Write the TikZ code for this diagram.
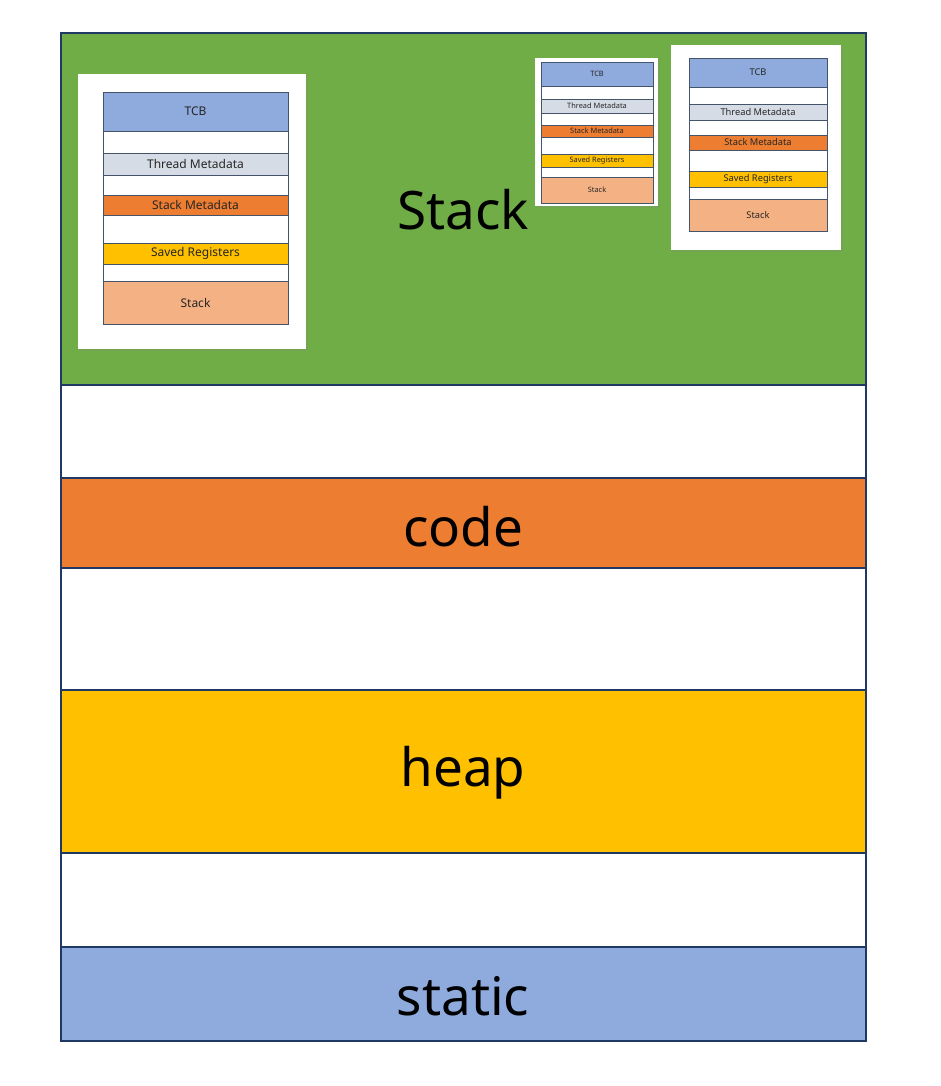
\documentclass[tikz,border=0pt]{standalone}
\usepackage{fontspec}
\setmainfont{Noto Sans}
\usetikzlibrary{shadows}
\definecolor{stackgreen}{HTML}{70AD47}
\definecolor{codeorange}{HTML}{ED7D31}
\definecolor{heapyellow}{HTML}{FFC000}
\definecolor{staticblue}{HTML}{8FAADC}
\definecolor{metagray}{HTML}{D6DCE5}
\definecolor{stackpink}{HTML}{F4B183}
\definecolor{bandline}{HTML}{203864}
\definecolor{segline}{HTML}{44546A}

\tikzset{
  band/.style={draw=bandline, line width=2pt, inner sep=0pt, minimum width=805pt},
  biglabel/.style={font=\fontsize{53}{60}\selectfont},
  card/.style={fill=white, inner sep=0pt, drop shadow={opacity=0.2, shadow xshift=1.5pt, shadow yshift=-1.5pt}},
  seg/.style={draw=segline, line width=0.6pt, inner sep=0pt, text=black!85}
}

\begin{document}
\begin{tikzpicture}[x=1pt,y=-1pt]
\useasboundingbox (0,0) rectangle (941,1086);

% memory bands
\foreach \name/\ya/\yb/\col in {stk/33/385/stackgreen, gapa/385/478/white, code/478/568/codeorange,
    gapb/568/690/white, heap/690/853/heapyellow, gapc/853/947/white, static/947/1041/staticblue}
  \node[band, fill=\col, minimum height={(\yb-\ya)*1pt}] (\name) at (463.5,{(\ya+\yb)/2}) {};

\node[biglabel] (stklabel) at (463,210) {Stack};
\node[biglabel] (codelabel) at (463,527) {code};
\node[biglabel] (heaplabel) at (463,773) {heap};
\node[biglabel] (staticlabel) at (463,996) {static};

% big card
\node[card, minimum width=228pt, minimum height=275pt] (cardA) at (192,211.5) {};
\foreach \i/\ya/\yb/\col/\txt in {1/92/131/staticblue/TCB, 2/131/153/white/, 3/153/175/metagray/Thread Metadata,
    4/175/195/white/, 5/195/215/codeorange/Stack Metadata, 6/215/243/white/, 7/243/264/heapyellow/Saved Registers,
    8/264/281/white/, 9/281/324/stackpink/Stack}
  \node[seg, fill=\col, font=\fontsize{12}{13}\selectfont, minimum width=185pt, minimum height={(\yb-\ya)*1pt}]
    (A-\i) at (195.5,{(\ya+\yb)/2}) {\txt};

% small card
\node[card, minimum width=123pt, minimum height=148pt] (cardB) at (596.5,132) {};
\foreach \i/\ya/\yb/\col/\txt in {1/62/86/staticblue/TCB, 2/86/99/white/, 3/99/113/metagray/Thread Metadata,
    4/113/125/white/, 5/125/137/codeorange/Stack Metadata, 6/137/154/white/, 7/154/167/heapyellow/Saved Registers,
    8/167/177/white/, 9/177/203/stackpink/Stack}
  \node[seg, fill=\col, font=\fontsize{7.4}{8}\selectfont, minimum width=112pt, minimum height={(\yb-\ya)*1pt}]
    (B-\i) at (597,{(\ya+\yb)/2}) {\txt};

% medium card
\node[card, minimum width=170pt, minimum height=205pt] (cardC) at (756,147.5) {};
\foreach \i/\ya/\yb/\col/\txt in {1/58/87/staticblue/TCB, 2/87/104/white/, 3/104/120/metagray/Thread Metadata,
    4/120/135/white/, 5/135/150/codeorange/Stack Metadata, 6/150/171/white/, 7/171/187/heapyellow/Saved Registers,
    8/187/199/white/, 9/199/231/stackpink/Stack}
  \node[seg, fill=\col, font=\fontsize{9.3}{10}\selectfont, minimum width=138pt, minimum height={(\yb-\ya)*1pt}]
    (C-\i) at (758,{(\ya+\yb)/2}) {\txt};
\end{tikzpicture}
\end{document}
